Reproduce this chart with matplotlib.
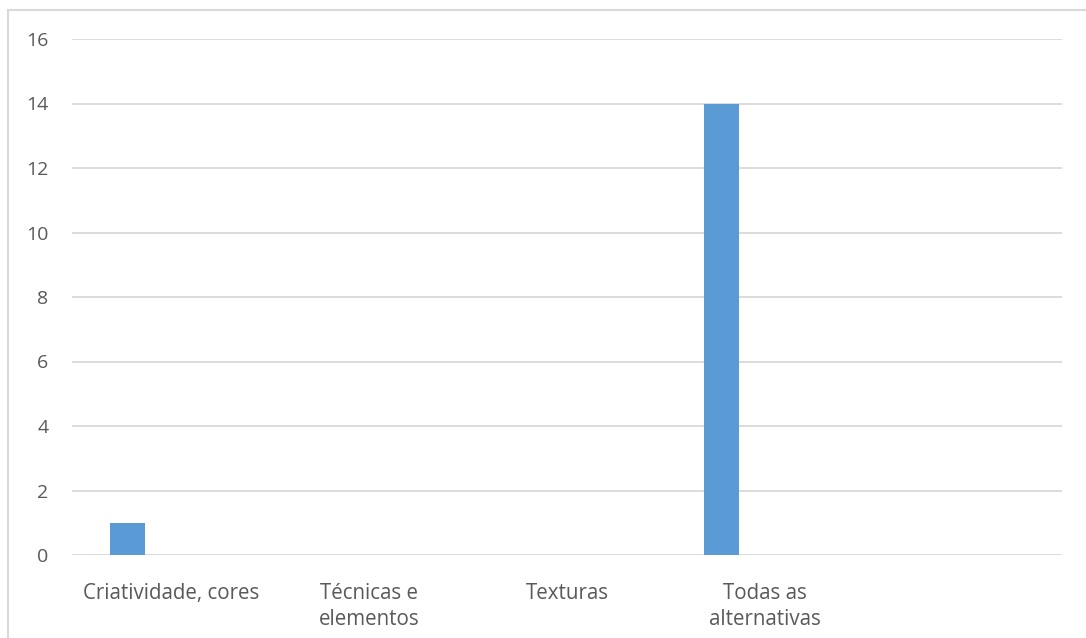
import numpy as np
import matplotlib.pyplot as plt
from matplotlib.patches import Rectangle

# Data
categories = ["Criatividade, cores", "Técnicas e\nelementos", "Texturas", "Todas as\nalternativas", ""]
values = [1, 0, 0, 14, 0]
y_ticks = [0, 2, 4, 6, 8, 10, 12, 14, 16]

W, H = 1086, 638
fig = plt.figure(figsize=(W / 100, H / 100), dpi=100)
fig.patch.set_facecolor("white")

# axes placed in pixel terms
left, right, bottom, top = 72, 1062, 555, 39
ax = fig.add_axes([left / W, 1 - bottom / H, (right - left) / W, (bottom - top) / H])

# outer chart border (only left and top visible in the crop)
fig.patches.append(Rectangle((8 / W, -0.1), 1.2, 1 - 10 / H + 0.1, transform=fig.transFigure,
                             fill=False, edgecolor="#d9d9d9", linewidth=1.5, clip_on=False))

x = np.arange(len(categories))
bar_w = 0.175
offset = -0.5 + 0.192 + bar_w / 2  # bar sits left of the slot centre (first of a cluster)
ax.bar(x + offset, values, width=bar_w, color="#5b9bd5", zorder=3)

ax.set_xlim(-0.5, len(categories) - 0.5)
ax.set_ylim(0, 16)
ax.set_yticks(y_ticks)
ax.set_xticks(x)
ax.set_xticklabels(categories, fontsize=14.8, color="#595959", family="Open Sans",
                   linespacing=1.35)
ax.set_yticklabels([str(t) for t in y_ticks], fontsize=14, color="#595959", family="Open Sans")
ax.tick_params(axis="both", length=0)
ax.tick_params(axis="x", pad=20)
ax.tick_params(axis="y", pad=17)
for s in ax.spines.values():
    s.set_visible(False)
ax.yaxis.grid(True, color="#d9d9d9", linewidth=1.3, zorder=0)
ax.set_axisbelow(True)

fig.savefig("out.png", dpi=100, facecolor="white")
